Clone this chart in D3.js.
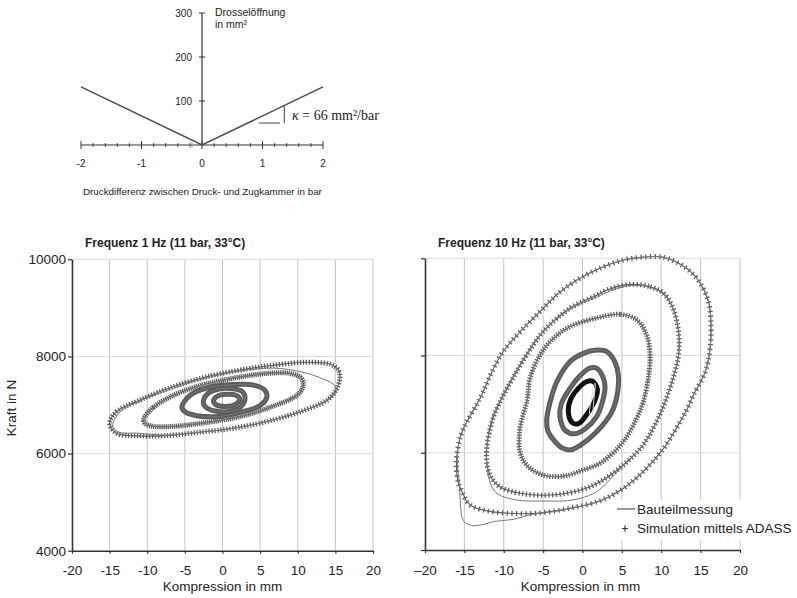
<!DOCTYPE html>
<html><head><meta charset="utf-8">
<script src="https://cdn.jsdelivr.net/npm/d3@7"></script>
<style>body{margin:0;background:#fff}svg{display:block}text{fill:#222}</style>
</head><body><svg id="c" width="797" height="598" font-family="Liberation Sans, Arial, sans-serif"></svg>
<script>
// ---------- data ----------
// top chart: throttle opening vs pressure difference
const throttleDp = [-2, 0, 2];
const throttleArea = [132, 0, 132];
const topXTicks = [-2, -1, 0, 1, 2];
const topYTicks = [100, 200, 300];
const slopeMarkX = [0.94, 1.29, 1.36, 1.36];
const slopeMarkY = [50, 50, 50, 91];

// bottom charts: axes
const kompTicks = [-20, -15, -10, -5, 0, 5, 10, 15, 20];
const kompLabelsLeft = ["-20", "-15", "-10", "-5", "0", "5", "10", "15", "20"];
const kompLabelsRight = ["\u201320", "-15", "-10", "-5", "0", "5", "10", "15", "20"];
const kraftTicks = [4000, 6000, 8000, 10000];
const kraftGrid = [6000, 8000, 10000];

// 1 Hz hysteresis loops [Kompression mm, Kraft N] (simulation)
const hz1Loop1 = [[-15.0,6620],[-14.1,6860],[-11.0,7100],[-6.5,7380],[-2.1,7580],[2.3,7720],[6.8,7820],[11.2,7880],[14.3,7840],[15.4,7720],[15.6,7580],[15.2,7340],[13.9,7100],[10.3,6860],[5.9,6660],[1.4,6520],[-3.0,6440],[-7.4,6370],[-11.4,6365],[-14.1,6420]];
const hz1Loop2 = [[-10.5,6700],[-9.2,6950],[-6.5,7200],[-3.0,7400],[1.4,7550],[5.9,7650],[9.0,7650],[10.5,7550],[10.7,7380],[9.9,7200],[6.8,6980],[2.3,6760],[-2.1,6640],[-6.5,6560],[-9.2,6560],[-10.3,6620]];
const hz1Loop3 = [[-5.4,6960],[-4.3,7200],[-2.1,7350],[1.4,7420],[4.1,7410],[5.6,7310],[5.9,7170],[5.0,6990],[2.3,6850],[-0.8,6760],[-3.4,6780],[-5.0,6860]];
const hz1Loop4 = [[-2.55,7050],[-2.0,7230],[-0.5,7330],[1.2,7340],[2.6,7280],[3.0,7150],[2.4,6960],[1.0,6870],[-0.8,6870],[-2.1,6940]];
const hz1Loop5 = [[-1.2,7080],[-0.7,7180],[0.5,7220],[1.8,7200],[2.3,7120],[1.7,7010],[0.4,6970],[-0.8,7000]];
// 1 Hz measured outer loop (Bauteilmessung)
const hz1MeasLoop1 = [[-14.6,6560],[-13.6,6860],[-11.0,7080],[-6.5,7350],[-2.1,7560],[2.3,7700],[6.8,7760],[10.5,7680],[13.0,7560],[14.8,7420],[15.2,7300],[13.8,7080],[10.3,6860],[5.9,6660],[1.4,6520],[-3.0,6440],[-7.4,6380],[-11.4,6420],[-13.8,6440]];

// 10 Hz hysteresis loops (simulation)
const hz10Loop1 = [[7.5,10020],[10.3,10020],[13.2,9794],[14.9,9500],[16.0,9107],[16.3,8696],[16.2,8148],[15.6,7667],[14.1,7190],[13.3,6900],[12.4,6640],[10.3,6090],[7.7,5610],[5.2,5270],[2.2,5010],[-1.6,4860],[-5.8,4755],[-9.2,4755],[-12.0,4800],[-13.9,4890],[-14.7,5000],[-15.1,5130],[-15.8,5405],[-16.0,5816],[-15.7,6200],[-15.1,6503],[-13.0,7120],[-11.5,7667],[-10.1,8078],[-7.9,8490],[-5.4,8901],[-3.3,9245],[-0.7,9553],[2.2,9794],[5.2,9964]];
const hz10Loop2 = [[6.0,9464],[8.6,9416],[10.3,9280],[11.5,8971],[12.2,8490],[12.2,8011],[11.5,7531],[10.5,7050],[9.4,6639],[7.7,6160],[5.2,5748],[2.2,5400],[-0.3,5230],[-4.1,5131],[-7.9,5166],[-10.5,5302],[-11.75,5543],[-12.2,5954],[-11.5,6639],[-10.3,7100],[-8.8,7550],[-7.1,8011],[-5.0,8490],[-1.6,8971],[1.8,9240],[3.1,9348]];
const hz10Loop3 = [[2.0,8780],[4.8,8848],[6.9,8731],[8.15,8422],[8.57,8011],[8.36,7531],[7.72,7050],[6.88,6708],[5.18,6228],[2.4,5800],[0.0,5640],[-2.4,5520],[-5.0,5543],[-7.1,5748],[-7.94,6022],[-7.94,6503],[-7.0,7100],[-6.67,7531],[-5.4,8011],[-3.7,8354],[-1.6,8593]];
const hz10Loop4 = [[1.5,8110],[3.1,8080],[4.1,7873],[4.55,7600],[4.4,7188],[3.7,6830],[1.8,6433],[-0.3,6150],[-1.5,6060],[-2.6,6100],[-3.6,6250],[-4.4,6450],[-4.55,6660],[-4.1,7050],[-3.3,7445],[-1.6,7873],[0.1,8045]];
const hz10Loop5 = [[0.9,7740],[1.8,7737],[2.6,7560],[2.86,7359],[2.5,7030],[1.8,6742],[0.4,6500],[-1.0,6390],[-2.2,6460],[-2.86,6742],[-2.7,7000],[-2.0,7222],[-0.9,7480],[0.1,7650]];
const hz10Loop6 = [[1.3,7470],[1.9,7300],[1.5,7050],[0.6,6800],[-0.5,6600],[-1.3,6620],[-1.8,6850],[-1.5,7100],[-0.5,7330],[0.5,7460]];
// 10 Hz measured loops that differ visibly from the simulation
const hz10MeasLoop1 = [[7.5,10020],[10.3,10020],[13.2,9794],[14.9,9500],[16.0,9107],[16.3,8696],[16.2,8148],[15.6,7667],[14.1,7190],[13.3,6900],[12.4,6640],[10.3,6090],[7.7,5610],[5.2,5270],[2.2,5010],[-2.4,4823],[-6.7,4720],[-8.8,4630],[-11.0,4590],[-13.9,4500],[-15.1,4600],[-15.5,4926],[-15.6,5300],[-15.9,5800],[-15.7,6200],[-15.1,6503],[-13.0,7120],[-11.5,7667],[-10.1,8078],[-7.9,8490],[-5.4,8901],[-3.3,9245],[-0.7,9553],[2.2,9794],[5.2,9964]];
const hz10MeasLoop2 = [[6.0,9440],[8.6,9400],[10.3,9260],[11.5,8960],[12.2,8490],[12.2,8011],[11.5,7531],[10.5,7050],[9.4,6639],[7.7,6160],[5.2,5748],[1.8,5200],[-0.3,5063],[-2.4,5008],[-4.6,5008],[-8.35,5028],[-11.1,5200],[-12.2,5816],[-11.6,6639],[-10.4,7100],[-8.9,7550],[-7.2,8011],[-5.1,8480],[-1.7,8940],[1.8,9200],[3.1,9300]];
const hz10MeasLoop6 = [[1.6,7430],[1.45,7100],[1.17,6742],[0.9,6820],[1.2,7150],[1.45,7400]];

const loops1HzSim = [hz1Loop1, hz1Loop2, hz1Loop3, hz1Loop4, hz1Loop5];
const loops1HzMeas = [hz1MeasLoop1, hz1Loop2, hz1Loop3, hz1Loop4, hz1Loop5];
const loops10HzSim = [hz10Loop1, hz10Loop2, hz10Loop3, hz10Loop4, hz10Loop5, hz10Loop6];
const loops10HzMeas = [hz10MeasLoop1, hz10MeasLoop2, hz10Loop3, hz10Loop4, hz10Loop5, hz10MeasLoop6];

const legendLabels = ["Bauteilmessung", "Simulation mittels ADASS"];

// ---------- drawing ----------
const svg = d3.select("#c");
const AX = "#333";

// ===== top chart =====
const xT = d3.scaleLinear([-2, 2], [81, 323]);
const yT = d3.scaleLinear([0, 300], [145, 13]);
const gTop = svg.append("g");
gTop.append("line").attr("x1", xT(-2)).attr("x2", xT(2)).attr("y1", yT(0)).attr("y2", yT(0)).attr("stroke", AX).attr("stroke-width", 1.2);
gTop.append("line").attr("x1", xT(0)).attr("x2", xT(0)).attr("y1", yT(0)).attr("y2", yT(300)).attr("stroke", AX).attr("stroke-width", 1.2);
d3.range(-2, 2.001, 0.2).forEach(v => {
  const major = Math.abs(v - Math.round(v)) < 1e-6;
  gTop.append("line").attr("x1", xT(v)).attr("x2", xT(v))
    .attr("y1", yT(0) - (major ? 4 : 1.8)).attr("y2", yT(0) + (major ? 4 : 1.8))
    .attr("stroke", AX).attr("stroke-width", 1);
});
topXTicks.forEach(v => gTop.append("text").attr("x", xT(v)).attr("y", 167).attr("text-anchor", "middle")
  .attr("font-size", 10).text(v));
topYTicks.forEach(v => {
  gTop.append("line").attr("x1", xT(0) - 3).attr("x2", xT(0) + 3).attr("y1", yT(v)).attr("y2", yT(v)).attr("stroke", AX);
  gTop.append("text").attr("x", xT(0) - 10).attr("y", yT(v) + 3.5).attr("text-anchor", "end").attr("font-size", 10).text(v);
});
const tl = d3.line().x((d, i) => xT(throttleDp[i])).y((d, i) => yT(throttleArea[i]));
gTop.append("path").attr("d", tl(throttleDp)).attr("fill", "none").attr("stroke", "#4a4a4a").attr("stroke-width", 1.5);
gTop.append("circle").attr("cx", xT(-0.18)).attr("cy", yT(0)).attr("r", 2.2).attr("fill", "none").attr("stroke", "#aaa");
gTop.append("path").attr("d", `M${xT(slopeMarkX[0])},${yT(slopeMarkY[0])}H${xT(slopeMarkX[1])}M${xT(slopeMarkX[2])},${yT(slopeMarkY[2])}V${yT(slopeMarkY[3])}`)
  .attr("stroke", "#444").attr("stroke-width", 1).attr("fill", "none");
gTop.append("text").attr("x", 292).attr("y", 120).attr("font-family", "Liberation Serif, Times New Roman, serif")
  .attr("font-size", 14).html('<tspan font-style="italic">\u03ba</tspan> = 66 mm\u00b2/bar');
gTop.append("text").attr("x", 215).attr("y", 16).attr("font-size", 10.5).text("Drosselöffnung");
gTop.append("text").attr("x", 215).attr("y", 28).attr("font-size", 10.5).text("in mm\u00b2");
gTop.append("text").attr("x", 83).attr("y", 195).attr("font-size", 9.8).text("Druckdifferenz zwischen Druck- und Zugkammer in bar");

// ===== bottom charts =====
function panel(x0, x1, yTop, yBot, labels, showY, title, simLoops, measLoops) {
  const x = d3.scaleLinear([-20, 20], [x0, x1]);
  const y = d3.scaleLinear([4000, 10000], [yBot, yTop]);
  const g = svg.append("g");
  // grid
  kompTicks.filter(v => v > -20).forEach(v => g.append("line").attr("x1", x(v)).attr("x2", x(v))
    .attr("y1", y(4000)).attr("y2", y(10000)).attr("stroke", "#c4c4c4").attr("stroke-width", 1));
  kraftGrid.forEach(v => g.append("line").attr("x1", x(-20)).attr("x2", x(20)).attr("y1", y(v)).attr("y2", y(v))
    .attr("stroke", "#dcdcdc").attr("stroke-width", 1));
  // loops
  const line = d3.line().x(d => x(d[0])).y(d => y(d[1])).curve(d3.curveCatmullRomClosed.alpha(0.5));
  simLoops.forEach((L, i) => {
    const col = (i === simLoops.length - 1 && simLoops.length > 5) ? "#111" : "#5c5c5c";
    const p = g.append("path").attr("d", line(L)).attr("fill", "none").attr("stroke", col).attr("stroke-width", 5);
    const len = p.node().getTotalLength();
    const per = len / 170;
    if (per > 1.6) p.attr("stroke-dasharray", `1.3 ${(per - 1.3).toFixed(2)}`);
    g.append("path").attr("d", line(L)).attr("fill", "none").attr("stroke", col).attr("stroke-width", 1.1);
  });
  measLoops.forEach((L, i) => {
    const inner = i === measLoops.length - 1 && measLoops.length > 5;
    g.append("path").attr("d", line(L)).attr("fill", "none").attr("stroke", inner ? "#ddd" : "#777").attr("stroke-width", 1);
  });
  // axes
  const ax = g.append("g").attr("transform", `translate(0,${yBot})`)
    .call(d3.axisBottom(x).tickValues(kompTicks).tickFormat((d, i) => labels[i]).tickSize(3).tickPadding(12).tickSizeOuter(0));
  const ay = g.append("g").attr("transform", `translate(${x0},0)`)
    .call(d3.axisLeft(y).tickValues(kraftTicks).tickFormat(showY ? d3.format("d") : "").tickSize(4).tickPadding(2).tickSizeOuter(0));
  [ax, ay].forEach(a => {
    a.select(".domain").attr("stroke", AX).attr("stroke-width", 1.6);
    a.selectAll(".tick line").attr("stroke", AX).attr("stroke-width", 1.2);
    a.selectAll("text").attr("font-size", 13.5).attr("fill", "#222").attr("font-family", "Liberation Sans, Arial, sans-serif");
  });
  g.append("text").attr("x", (x0 + x1) / 2 + (showY ? 0 : -2)).attr("y", 591).attr("text-anchor", "middle")
    .attr("font-size", 13.5).text("Kompression in mm");
  g.append("text").attr("x", x0 + 13).attr("y", 247).attr("font-size", 12).attr("font-weight", "bold").text(title);
  return {x, y, g};
}
panel(72, 373, 259.3, 550.7, kompLabelsLeft, true, "Frequenz 1 Hz (11 bar, 33\u00b0C)", loops1HzSim, loops1HzMeas);
panel(425, 740, 258.3, 550, kompLabelsRight, false, "Frequenz 10 Hz (11 bar, 33\u00b0C)", loops10HzSim, loops10HzMeas);
svg.append("text").attr("transform", "translate(16,408) rotate(-90)").attr("text-anchor", "middle")
  .attr("font-size", 13.5).text("Kraft in N");

// legend
const lg = svg.append("g");
lg.append("rect").attr("x", 612).attr("y", 500).attr("width", 185).attr("height", 40).attr("fill", "#fff");
lg.append("line").attr("x1", 617).attr("x2", 635).attr("y1", 509).attr("y2", 509).attr("stroke", "#333").attr("stroke-width", 1);
lg.append("path").attr("d", "M622,528.5h6M625,525.5v6").attr("stroke", "#333").attr("stroke-width", 1.2);
lg.append("text").attr("x", 637).attr("y", 513.5).attr("font-size", 13.5).text(legendLabels[0]);
lg.append("text").attr("x", 637).attr("y", 533).attr("font-size", 13.5).text(legendLabels[1]);
</script></body></html>
